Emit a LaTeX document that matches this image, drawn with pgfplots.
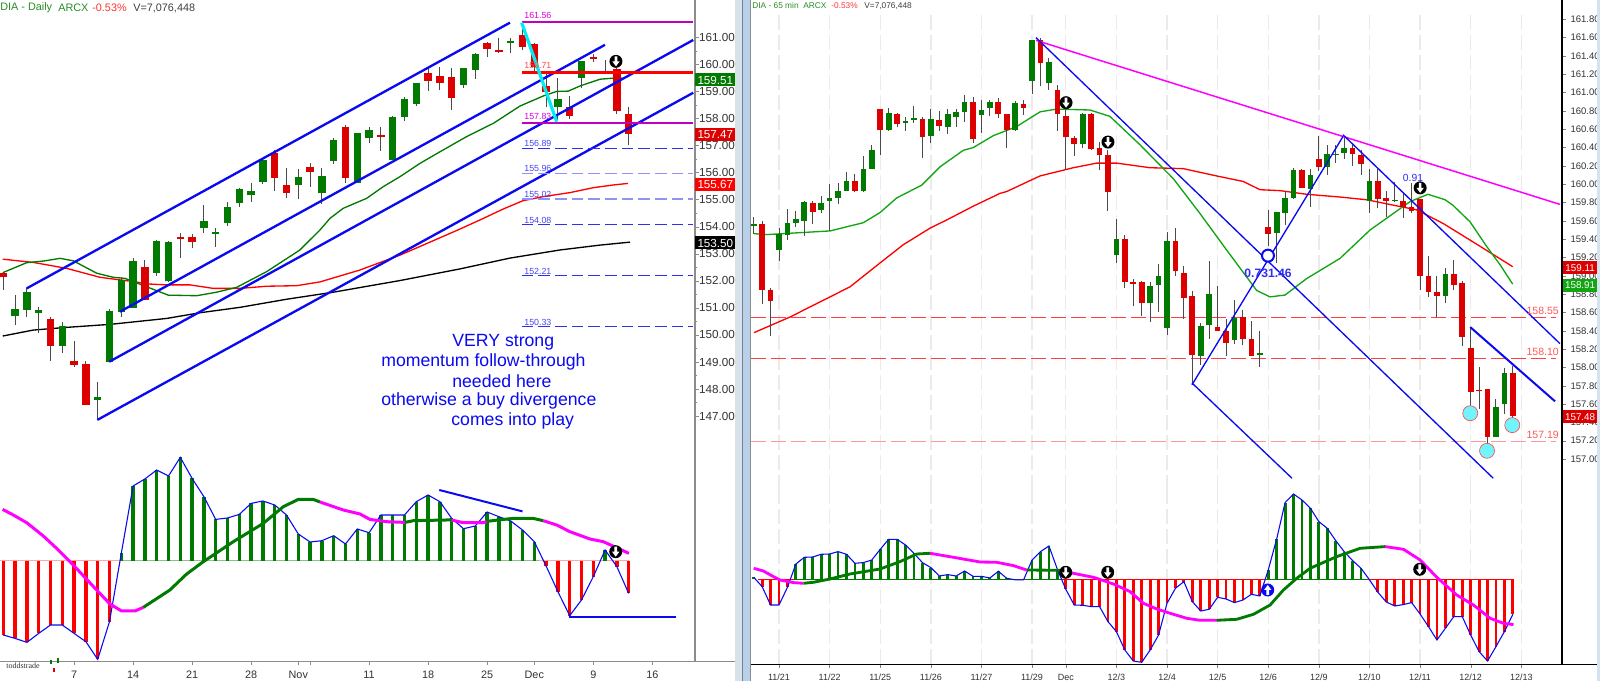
\documentclass[border=0pt]{standalone}
\usepackage{fontspec}
\setmainfont{Liberation Sans}
\newfontfamily\serifsmall{Liberation Serif}
\usepackage{pgfplots}
\usepackage{pgfplotstable}
\pgfplotsset{compat=1.18}
\definecolor{cg}{HTML}{007A00}
\definecolor{cr}{HTML}{DD0000}
\definecolor{bl}{HTML}{0A0AF0}
\definecolor{mg}{HTML}{FF00FF}
\definecolor{mh}{HTML}{C000C0}
\definecolor{lm}{HTML}{12A512}
\definecolor{wk}{HTML}{4A4A4A}
\definecolor{tk}{HTML}{333333}
\definecolor{gax}{HTML}{8C8C8C}
\definecolor{sa}{HTML}{D5E2F0}
\definecolor{sb}{HTML}{B8D0EA}
\definecolor{cy}{HTML}{00EEF2}
\definecolor{cc}{HTML}{70F5FF}
\pgfdeclareplotmark{darrow}{%
 \pgfsetfillcolor{black}\pgfpathcircle{\pgfpointorigin}{3.9pt}\pgfusepathqfill
 \pgfsetfillcolor{white}%
 \pgfpathmoveto{\pgfpoint{-0.8pt}{3pt}}\pgfpathlineto{\pgfpoint{0.8pt}{3pt}}%
 \pgfpathlineto{\pgfpoint{0.8pt}{0pt}}\pgfpathlineto{\pgfpoint{2.2pt}{0pt}}%
 \pgfpathlineto{\pgfpoint{0pt}{-3pt}}\pgfpathlineto{\pgfpoint{-2.2pt}{0pt}}%
 \pgfpathlineto{\pgfpoint{-0.8pt}{0pt}}\pgfpathclose\pgfusepathqfill}
\pgfdeclareplotmark{uarrow}{%
 \pgfsetfillcolor{bl}\pgfpathcircle{\pgfpointorigin}{3.9pt}\pgfusepathqfill
 \pgfsetfillcolor{white}%
 \pgfpathmoveto{\pgfpoint{-0.8pt}{-3pt}}\pgfpathlineto{\pgfpoint{0.8pt}{-3pt}}%
 \pgfpathlineto{\pgfpoint{0.8pt}{0pt}}\pgfpathlineto{\pgfpoint{2.2pt}{0pt}}%
 \pgfpathlineto{\pgfpoint{0pt}{3pt}}\pgfpathlineto{\pgfpoint{-2.2pt}{0pt}}%
 \pgfpathlineto{\pgfpoint{-0.8pt}{0pt}}\pgfpathclose\pgfusepathqfill}
% daily candles: index, low, high, body bottom, body top, 1 = up
\pgfplotstableread{
x lo hi bo bt up
0 151.66 152.34 152.13 152.28 0
1 150.37 151.48 150.70 150.95 1
2 150.67 151.74 150.92 151.58 1
3 150.06 151.02 150.80 150.92 1
4 149.05 150.67 149.59 150.60 0
5 149.34 150.48 149.59 150.33 1
6 148.83 149.78 148.89 149.04 0
7 147.41 149.04 147.41 148.93 0
8 146.86 148.26 147.60 147.71 1
9 149.01 150.96 149.01 150.87 1
10 150.67 152.15 150.84 152.03 1
11 151.00 152.84 151.00 152.74 1
12 151.29 152.77 151.29 152.52 0
13 152.18 153.51 152.30 153.47 1
14 151.97 153.48 152.00 153.44 1
15 152.84 153.77 153.54 153.63 0
16 153.21 153.73 153.45 153.63 0
17 153.77 154.80 153.94 154.22 1
18 153.26 153.96 153.73 153.79 1
19 154.04 154.91 154.15 154.74 1
20 154.74 155.43 154.89 155.38 1
21 154.92 155.63 155.17 155.33 1
22 155.58 156.50 155.66 156.47 1
23 155.32 156.84 155.81 156.71 0
24 155.05 156.16 155.24 155.54 0
25 155.01 156.12 155.54 155.84 1
26 155.48 156.34 156.01 156.20 0
27 154.84 156.16 155.24 155.87 1
28 156.32 157.28 156.44 157.20 1
29 155.63 157.76 155.79 157.70 0
30 155.60 157.45 155.60 157.45 1
31 157.10 157.70 157.29 157.58 1
32 156.81 157.70 157.32 157.39 0
33 156.47 158.10 156.47 158.04 1
34 157.92 158.78 158.07 158.71 1
35 158.46 159.31 158.52 159.30 1
36 159.03 159.91 159.40 159.69 0
37 159.05 159.91 159.32 159.57 0
38 158.31 159.85 158.75 159.52 0
39 159.11 159.85 159.24 159.85 1
40 159.46 160.41 159.79 160.38 1
41 160.28 160.84 160.57 160.80 0
42 160.43 160.99 160.46 160.53 0
43 160.41 160.96 160.78 160.85 1
44 160.53 161.33 160.65 161.09 0
45 159.73 160.80 159.91 160.75 0
46 158.44 159.72 158.97 159.20 0
47 157.94 159.51 158.44 158.72 1
48 157.97 158.84 158.10 158.41 0
49 159.12 160.12 159.51 160.12 1
50 160.08 160.37 160.21 160.27 0
51 159.64 160.16 159.69 159.77 0
52 158.17 159.85 158.29 159.82 0
53 157.02 158.41 157.44 158.17 0
}\dailycandles
\pgfplotstableread{
x v
0 -.743
1 -.777
2 -.817
3 -.727
4 -.643
5 -.643
6 -.727
7 -.81
8 -.987
9 -.61
10 .073
11 .747
12 .817
13 .907
14 .847
15 1.033
16 .823
17 .64
18 .413
19 .427
20 .463
21 .573
22 .597
23 .557
24 .457
25 .267
26 .187
27 .2
28 .25
29 .167
30 .317
31 .28
32 .457
33 .457
34 .457
35 .59
36 .657
37 .59
38 .423
39 .32
40 .347
41 .487
42 .44
43 .397
44 .307
45 .19
46 -.053
47 -.31
48 -.55
49 -.393
50 -.16
51 .107
52 -.06
53 -.327
}\dailymacd
% 65 minute candles
\pgfplotstableread{
x lo hi bo bt up
0 159.46 159.64 159.54 159.57 1
1 158.69 159.60 158.85 159.57 0
2 158.34 158.87 158.73 158.84 0
3 159.16 159.52 159.28 159.46 1
4 159.39 159.73 159.45 159.58 1
5 159.53 159.71 159.58 159.62 1
6 159.43 159.82 159.60 159.81 1
7 159.57 159.82 159.70 159.80 0
8 159.69 159.87 159.72 159.80 1
9 159.49 160.00 159.82 159.85 1
10 159.78 160.01 159.85 159.93 1
11 159.93 160.13 159.93 160.04 1
12 159.91 160.11 159.93 160.04 0
13 159.92 160.31 159.93 160.17 1
14 160.17 160.43 160.17 160.37 1
15 160.32 160.82 160.59 160.82 0
16 160.58 160.83 160.59 160.78 1
17 160.62 160.78 160.66 160.77 0
18 160.58 160.73 160.67 160.69 1
19 160.67 160.85 160.70 160.72 1
20 160.29 160.73 160.52 160.71 0
21 160.45 160.82 160.53 160.71 1
22 160.58 160.80 160.63 160.70 0
23 160.55 160.82 160.62 160.77 1
24 160.62 160.82 160.73 160.79 1
25 160.68 160.97 160.79 160.90 1
26 160.45 160.95 160.49 160.90 0
27 160.56 160.92 160.76 160.81 1
28 160.74 160.92 160.83 160.90 1
29 160.72 160.94 160.77 160.90 0
30 160.40 160.77 160.59 160.77 0
31 160.58 160.91 160.59 160.89 1
32 160.76 160.92 160.83 160.88 0
33 160.99 161.57 161.13 161.57 1
34 161.07 161.60 161.32 161.57 0
35 161.03 161.38 161.11 161.33 1
36 160.58 161.08 160.77 161.03 0
37 160.17 160.81 160.51 160.75 0
38 160.31 160.53 160.44 160.50 0
39 160.39 160.78 160.44 160.77 1
40 160.37 160.78 160.38 160.77 0
41 160.15 160.46 160.32 160.39 0
42 159.71 160.37 159.92 160.32 0
43 159.14 159.62 159.23 159.40 1
44 158.87 159.45 158.93 159.40 0
45 158.67 158.97 158.91 158.93 0
46 158.56 158.94 158.70 158.93 0
47 158.50 158.93 158.70 158.89 1
48 158.61 159.13 158.90 159.00 1
49 158.35 159.48 158.43 159.38 1
50 159.00 159.52 159.05 159.38 0
51 158.53 159.11 158.76 159.03 0
52 157.83 158.83 158.14 158.78 0
53 158.03 158.49 158.13 158.45 1
54 158.31 159.16 158.46 158.80 1
55 158.40 158.89 158.40 158.44 0
56 158.13 158.53 158.27 158.40 0
57 158.26 158.74 158.30 158.54 1
58 158.24 158.63 158.31 158.55 0
59 158.12 158.51 158.13 158.31 0
60 158.00 158.40 158.14 158.16 1
61 159.33 159.72 159.46 159.53 0
62 159.14 159.70 159.47 159.70 1
63 159.55 159.93 159.69 159.85 1
64 159.84 160.18 159.85 160.16 1
65 159.96 160.17 159.96 160.15 0
66 159.75 160.17 159.95 160.10 1
67 160.14 160.53 160.19 160.28 0
68 160.10 160.43 160.19 160.33 1
69 160.23 160.43 160.32 160.33 1
70 160.28 160.53 160.34 160.40 1
71 160.20 160.43 160.33 160.40 0
72 160.10 160.37 160.22 160.32 0
73 159.69 160.17 159.82 160.04 1
74 159.74 160.17 159.84 160.04 0
75 159.64 159.93 159.82 159.85 0
76 159.81 160.02 159.82 159.83 1
77 159.63 159.92 159.75 159.82 0
78 159.69 160.01 159.71 159.75 0
79 158.84 159.84 159.00 159.84 0
80 158.77 159.22 158.82 159.00 0
81 158.55 159.00 158.78 158.82 0
82 158.70 159.08 158.78 159.02 1
83 158.84 159.17 158.90 159.02 0
84 158.23 158.94 158.33 158.92 0
85 157.43 158.44 157.73 158.21 0
86 157.55 158.01 157.74 157.75 0
87 157.06 157.76 157.24 157.76 0
88 157.24 157.66 157.24 157.57 1
89 157.49 157.99 157.60 157.94 1
90 157.33 158.02 157.47 157.94 0
}\mincandles
\pgfplotstableread{
x v
0 .02
1 -.073
2 -.257
3 -.257
4 -.08
5 .153
6 .22
7 .223
8 .25
9 .253
10 .277
11 .25
12 .16
13 .167
14 .193
15 .30
16 .40
17 .40
18 .343
19 .26
20 .167
21 .117
22 .033
23 .047
24 .033
25 .083
26 .03
27 .03
28 .013
29 .08
30 .01
31 -.005
32 -.005
33 .193
34 .277
35 .333
36 .10
37 -.10
38 -.257
39 -.26
40 -.273
41 -.273
42 -.423
43 -.523
44 -.707
45 -.817
46 -.83
47 -.707
48 -.557
49 -.24
50 -.09
51 -.023
52 -.223
53 -.317
54 -.30
55 -.18
56 -.197
57 -.233
58 -.207
59 -.15
60 -.167
61 .093
62 .403
63 .767
64 .853
65 .793
66 .71
67 .577
68 .51
69 .387
70 .277
71 .187
72 .11
73 -.005
74 -.13
75 -.227
76 -.267
77 -.253
78 -.233
79 -.347
80 -.473
81 -.607
82 -.49
83 -.373
84 -.373
85 -.557
86 -.723
87 -.817
88 -.673
89 -.523
90 -.35
}\minmacd
\pgfplotsset{
 panel/.style={scale only axis,anchor=south west,clip=false,
  axis x line*=bottom,axis y line*=right,axis line style={-},
  tick align=outside,major tick length=2.2pt,minor tick length=1.4pt,
  /pgf/number format/assume math mode=true,
  /pgf/number format/fixed,/pgf/number format/fixed zerofill,/pgf/number format/precision=2,/pgf/number format/1000 sep={},
  yticklabel style={text=tk,xshift=-0.6pt}},
 wick/.style={draw=wk,line width=0.6pt,quiver={u=0,v=\thisrow{hi}-\thisrow{lo}}},
 upb/.style={draw=cg,line width=#1,quiver={u=0,v=\thisrow{up}*(\thisrow{bt}-\thisrow{bo})}},
 dnb/.style={draw=cr,line width=#1,quiver={u=0,v=(1-\thisrow{up})*(\thisrow{bt}-\thisrow{bo})}},
 hup/.style={draw=cg,line width=#1,quiver={u=0,v={max(\thisrow{v},0)}}},
 hdn/.style={draw=red,line width=#1,quiver={u=0,v={min(\thisrow{v},0)}}},
 dgrid/.style={xmajorgrids,major x grid style={draw=black!8,line width=0.8pt,dash pattern=on 9pt off 3pt}},
}
\begin{document}
\begin{tikzpicture}
\path[use as bounding box,fill=white] (0,0) rectangle (960pt,408.6pt);
%---------------- daily price
\begin{axis}[panel,at={(0pt,142.2pt)},width=417pt,height=266.4pt,
 xmin=-0.28,xmax=58.62,ymin=145.97,ymax=162.378,
 x axis line style={draw=none},y axis line style={draw=gax,line width=0.9pt},
 xtick=\empty,ytick={147,148,...,161},minor y tick num=1,
 ytick style={draw=gax},minor tick style={draw=gax},
 yticklabel style={text=tk,xshift=-2.6pt},
 tick label style={font=\fontsize{7}{8}\selectfont}]
\addplot[draw=black,line width=0.8pt] coordinates {(-.05,149.96)(2.54,150.18)(5.37,150.28)(9.04,150.39)(13.85,150.61)(16.67,150.82)(20.06,151.02)(24.02,151.32)(27.97,151.58)(33.62,152.01)(38.7,152.44)(42.94,152.84)(47.18,153.14)(50.57,153.32)(53.11,153.43)};
\addplot[draw=red,line width=0.8pt] coordinates {(-.05,152.8)(2.54,152.68)(5.37,152.46)(8.19,152.13)(11.02,151.97)(12.43,151.88)(13.85,151.85)(15.82,151.85)(17.8,151.72)(20.06,151.72)(22.32,151.80)(24.86,151.82)(26.84,151.96)(30.23,152.40)(33.62,152.95)(36.16,153.43)(38.53,153.88)(40.4,154.25)(42.35,154.65)(44.04,154.96)(45.74,155.11)(48.03,155.26)(49.97,155.44)(51.67,155.54)(52.94,155.6)};
\addplot[draw=cg,line width=0.8pt] coordinates {(-.05,152.30)(1.98,152.67)(3.39,152.73)(4.81,152.83)(5.93,152.74)(7.92,152.28)(9.32,152.13)(10.31,152.09)(12.15,151.78)(13.98,151.47)(16.39,151.45)(18.08,151.58)(19.78,151.76)(22.32,152.34)(25.14,153.14)(26.84,153.88)(27.69,154.31)(28.81,154.68)(30.8,155.05)(32.2,155.48)(33.62,155.85)(35.31,156.34)(37.01,156.77)(39.27,157.33)(41.53,157.82)(43.79,158.46)(45.76,158.83)(46.9,159.0)(47.88,159.01)(48.87,159.2)(50.57,159.45)(51.98,159.5)(52.41,159.49)};
\addplot[wick] table[x=x,y=lo] {\dailycandles};
\addplot[upb=4.4pt] table[x=x,y=bo] {\dailycandles};
\addplot[dnb=4.4pt] table[x=x,y=bo] {\dailycandles};
% channels
\addplot[draw=bl,line width=1.4pt] coordinates {(1.98,151.72)(42.94,161.54)};
\addplot[draw=bl,line width=1.4pt] coordinates {(9.89,150.86)(50.99,160.72)};
\addplot[draw=bl,line width=1.4pt] coordinates {(8.98,149.01)(58.47,160.90)};
\addplot[draw=bl,line width=1.4pt] coordinates {(7.97,146.86)(58.47,158.95)};
% retracement levels
\addplot[draw=mh,line width=1.6pt] coordinates {(43.93,161.56)(58.45,161.56)};
\addplot[draw=mh,line width=1.6pt] coordinates {(43.93,157.83)(58.45,157.83)};
\addplot[draw=red,line width=1.6pt] coordinates {(43.93,159.71)(58.45,159.71)};
\addplot[draw=bl!85,line width=0.6pt,dash pattern=on 7pt off 3pt] coordinates {(43.93,156.89)(58.45,156.89)};
\addplot[draw=bl!45,line width=0.9pt,dash pattern=on 7pt off 3pt] coordinates {(43.93,155.96)(58.45,155.96)};
\addplot[draw=bl!45,line width=0.9pt,dash pattern=on 7pt off 3pt] coordinates {(43.93,155.02)(58.45,155.02)};
\addplot[draw=bl!85,line width=0.6pt,dash pattern=on 7pt off 3pt] coordinates {(43.93,154.08)(58.45,154.08)};
\addplot[draw=bl!85,line width=0.6pt,dash pattern=on 7pt off 3pt] coordinates {(43.93,152.21)(58.45,152.21)};
\addplot[draw=bl!85,line width=0.6pt,dash pattern=on 7pt off 3pt] coordinates {(43.93,150.33)(58.45,150.33)};
\addplot[draw=cy,line width=1.9pt] coordinates {(43.93,161.54)(46.9,157.88)};
\addplot[only marks,mark=darrow] coordinates {(51.92,160.11)};
\end{axis}
%---------------- daily macd
\begin{axis}[panel,at={(0pt,11.58pt)},width=417pt,height=130.62pt,
 xmin=-0.28,xmax=58.62,ymin=-1.01,ymax=1.167,
 x axis line style={draw=gax,line width=0.9pt},y axis line style={draw=gax,line width=0.9pt},
 ytick=\empty,xtick={6,11,16,21,25,26,31,36,41,45,50,55},
 xticklabels={7,14,21,28,Nov,,11,18,25,Dec,9,16},
 xtick style={draw=gax},
 tick label style={font=\fontsize{6.5}{8}\selectfont,text=tk}]
\addplot[draw=red!35,line width=0.6pt] coordinates {(-.28,0)(10,0)};
\addplot[draw=cg!45,line width=0.6pt] coordinates {(10,0)(45.4,0)};
\addplot[draw=red!35,line width=0.6pt] coordinates {(45.4,0)(53,0)};
\addplot[hdn=2pt] table[x=x,y expr=0] {\dailymacd};
\addplot[hup=2pt] table[x=x,y expr=0] {\dailymacd};
\addplot[draw=bl,line width=0.65pt] table[x=x,y=v] {\dailymacd};
\addplot[draw=mg,line width=1.8pt] coordinates {(-.06,.513)(.85,.457)(1.98,.38)(3.39,.247)(4.52,.123)(5.93,-.043)(7.91,-.293)(9.04,-.433)(10.03,-.503)(11.16,-.503)(11.86,-.467)};
\addplot[draw=cg,line width=1.8pt] coordinates {(11.86,-.467)(14.12,-.293)(15.54,-.133)(16.95,-.01)(19.49,.19)(22.03,.373)(23.73,.54)(25,.613)(26.27,.613)(26.84,.587)};
\addplot[draw=mg,line width=1.8pt] coordinates {(26.84,.587)(28.81,.507)(30.23,.467)(31.07,.413)(32.49,.39)(34.04,.383)};
\addplot[draw=cg,line width=1.8pt] coordinates {(34.04,.383)(34.75,.40)(37.57,.407)(37.99,.407)};
\addplot[draw=mg,line width=1.8pt] coordinates {(37.99,.407)(38.98,.38)(40.68,.38)(40.96,.393)};
\addplot[draw=cg,line width=1.8pt] coordinates {(40.96,.393)(41.95,.407)(43.2,.423)(44.9,.423)(45.76,.40)};
\addplot[draw=mg,line width=1.8pt] coordinates {(45.76,.40)(46.9,.357)(48.02,.29)(49.72,.217)(50.85,.19)(51.98,.13)(53.02,.073)};
\addplot[draw=bl,line width=1.2pt] coordinates {(36.95,.707)(44,.493)};
\addplot[draw=bl,line width=1.2pt] coordinates {(47.94,-.563)(56.99,-.563)};
\addplot[only marks,mark=darrow] coordinates {(51.9,.09)};
\end{axis}
%---------------- 65 min price
\begin{axis}[panel,at={(450.6pt,114.6pt)},width=486.6pt,height=294pt,dgrid,
 xmin=-0.32,xmax=95.83,ymin=156.662,ymax=162.011,
 x axis line style={draw=none},y axis line style={draw=black,line width=0.7pt},
 xtick={3,9,15,21,27,33,37,43,49,55,61,67,73,79,85,91},xticklabels={},xtick style={draw=none},
 ytick={157,157.2,157.4,157.6,157.8,158,158.2,158.4,158.6,158.8,159,159.2,159.4,159.6,159.8,160,160.2,160.4,160.6,160.8,161,161.2,161.4,161.6,161.8},
 tick label style={font=\fontsize{5.7}{7}\selectfont}]
\addplot[draw=red!75,line width=0.6pt,dash pattern=on 9pt off 3pt] coordinates {(-.32,158.55)(95.1,158.55)};
\addplot[draw=red!75,line width=0.6pt,dash pattern=on 9pt off 3pt] coordinates {(-.32,158.10)(95.1,158.10)};
\addplot[draw=red!40,line width=0.9pt,dash pattern=on 9pt off 3pt] coordinates {(-.32,157.19)(95.1,157.19)};
\addplot[only marks,mark=*,mark size=4.5pt,draw=red!70,fill=cc,line width=0.4pt] coordinates {(84.95,157.50)(86.94,157.09)(89.93,157.37)};
\addplot[draw=red,line width=0.8pt] coordinates {(.04,158.38)(4.3,158.55)(9.05,158.77)(11.42,158.88)(14.97,159.14)(17.74,159.34)(20.9,159.52)(22.88,159.61)(26.03,159.76)(29.2,159.90)(29.99,159.92)(33.94,160.09)(37.89,160.18)(40.66,160.23)(43.04,160.23)(46.98,160.18)(50.93,160.17)(54.89,160.09)(58.04,160.03)(60.02,159.94)(62.39,159.93)(65.56,159.89)(69.51,159.86)(72.67,159.83)(78.6,159.72)(81.76,159.57)(85.28,159.37)(89.98,159.10)};
\addplot[draw=lm,line width=0.8pt] coordinates {(.04,159.46)(1.54,159.45)(9.05,159.49)(13,159.58)(14.97,159.69)(16.95,159.85)(19.92,159.99)(22.09,160.19)(24.85,160.37)(26.03,160.40)(28.41,160.53)(31.18,160.63)(33.95,160.79)(35.92,160.82)(39.87,160.81)(42.24,160.74)(45.8,160.43)(49.75,160.06)(52.91,159.68)(56.08,159.28)(59.63,158.84)(61.21,158.77)(62.99,158.79)(65.56,158.97)(69.51,159.19)(73.07,159.5)(77.81,159.81)(79.95,159.89)(81.97,159.83)(82.9,159.77)(84.92,159.59)(86.9,159.32)(88.49,159.12)(89.98,158.91)};
\addplot[wick] table[x=x,y=lo] {\mincandles};
\addplot[upb=3.4pt] table[x=x,y=bo] {\mincandles};
\addplot[dnb=3.4pt] table[x=x,y=bo] {\mincandles};
\addplot[draw=mg,line width=0.9pt] coordinates {(33.47,161.57)(95.58,159.78)};
\addplot[draw=bl,line width=0.8pt] coordinates {(33.47,161.60)(87.68,156.79)};
\addplot[draw=bl,line width=0.8pt] coordinates {(51.96,157.81)(69.86,160.52)};
\addplot[draw=bl,line width=0.8pt] coordinates {(69.86,160.54)(95.58,158.26)};
\addplot[draw=bl,line width=0.8pt] coordinates {(51.96,157.83)(63.82,156.79)};
\addplot[draw=bl,line width=1.2pt] coordinates {(84.95,158.44)(95,157.63)};
\addplot[only marks,mark=*,mark size=3.6pt,draw=bl,fill=white,line width=1.2pt] coordinates {(60.97,159.22)};
\addplot[only marks,mark=darrow] coordinates {(37.03,160.89)(42,160.46)(79.01,159.96)};
\end{axis}
%---------------- 65 min macd
\begin{axis}[panel,at={(450.6pt,10.02pt)},width=486.6pt,height=104.58pt,dgrid,
 xmin=-0.32,xmax=95.83,ymin=-.85,ymax=.893,
 x axis line style={draw=black,line width=0.7pt},y axis line style={draw=black,line width=0.7pt},
 ytick=\empty,xtick={3,9,15,21,27,33,37,43,49,55,61,67,73,79,85,91},
 xticklabels={11/21,11/22,11/25,11/26,11/27,11/29,Dec,12/3,12/4,12/5,12/6,12/9,12/10,12/11,12/12,12/13},
 tick label style={font=\fontsize{5.4}{7}\selectfont,text=tk}]
\addplot[draw=cg,line width=0.6pt] coordinates {(4.8,0)(36.5,0)};
\addplot[draw=red,line width=0.6pt] coordinates {(.5,0)(4.8,0)};
\addplot[draw=red,line width=0.6pt] coordinates {(36.5,0)(60.9,0)};
\addplot[draw=cg,line width=0.6pt] coordinates {(60.9,0)(73,0)};
\addplot[draw=red,line width=0.6pt] coordinates {(73,0)(90,0)};
\addplot[hdn=1.7pt] table[x=x,y expr=0] {\minmacd};
\addplot[hup=1.7pt] table[x=x,y expr=0] {\minmacd};
\addplot[draw=bl,line width=0.65pt] table[x=x,y=v] {\minmacd};
\addplot[draw=mg,line width=1.7pt] coordinates {(0,.11)(1.15,.083)(2.33,.027)(3.12,-.007)(4.7,-.033)(5.89,-.04)};
\addplot[draw=cg,line width=1.7pt] coordinates {(5.89,-.04)(7.07,-.03)(9.05,.003)(11.42,.053)(14.98,.103)(17.35,.177)(19.33,.253)(20.91,.26)};
\addplot[draw=mg,line width=1.7pt] coordinates {(20.91,.26)(23.68,.22)(26.84,.173)(28.81,.17)(30.79,.137)(32.37,.093)};
\addplot[draw=cg,line width=1.7pt] coordinates {(32.37,.093)(36.32,.09)};
\addplot[draw=mg,line width=1.7pt] coordinates {(36.32,.09)(37.9,.06)(40.28,.02)(42.65,-.047)(44.62,-.123)(46.2,-.24)(47.79,-.297)(49.37,-.34)(51.34,-.39)(52.92,-.41)(54.9,-.41)};
\addplot[draw=cg,line width=1.7pt] coordinates {(54.9,-.41)(57.27,-.40)(59.25,-.35)(61.22,-.257)(62.8,-.107)(64.38,.01)(65.96,.11)(69.13,.227)(71.89,.31)(74.86,.327)};
\addplot[draw=mg,line width=1.7pt] coordinates {(74.86,.327)(77.03,.30)(79.01,.193)(80.99,.02)(83.35,-.157)(85.33,-.257)(87.31,-.39)(88.89,-.44)(90.08,-.453)};
\addplot[only marks,mark=darrow] coordinates {(36.99,.07)(41.97,.07)(78.96,.10)};
\addplot[only marks,mark=uarrow] coordinates {(60.94,-.107)};
\end{axis}
%---------------- frame and texts, in reference pixels
\begin{scope}[x=0.6pt,y=-0.6pt,yshift=408.6pt]
\fill[white] (751.5,0) rectangle (1561,12);
\fill[white] (735,0) rectangle (751,681);
\fill[black!12] (735,0) rectangle (737,681);
\fill[sa] (737,0) rectangle (743,681);
\fill[black!50] (741.7,0) rectangle (743,681);
\fill[sb] (743,0) rectangle (750,681);
\fill[black!45] (750,0) rectangle (751,681);
\fill[sa] (1597,0) rectangle (1600,681);
\draw[gax,line width=0.9pt] (695,661.7) -- (735,661.7);
\draw[black,line width=0.7pt] (1562,664.3) -- (1597,664.3);
% titles
\def\tf{\fontsize{6.5}{8}\selectfont}
\node[anchor=west,inner sep=0,text=cg!85!white,font=\tf] at (0,8) {DIA - Daily};
\node[anchor=west,inner sep=0,text=cg!85!white,font=\tf] at (58,8) {ARCX};
\node[anchor=west,inner sep=0,text=red!80,font=\tf] at (92,8) {-0.53\%};
\node[anchor=west,inner sep=0,text=black!75,font=\tf] at (133,8) {V=7,076,448};
\def\tg{\fontsize{5}{7}\selectfont}
\node[anchor=west,inner sep=0,text=cg!85!white,font=\tg] at (752,6) {DIA - 65 min};
\node[anchor=west,inner sep=0,text=cg!85!white,font=\tg] at (803,6) {ARCX};
\node[anchor=west,inner sep=0,text=red!80,font=\tg] at (831,6) {-0.53\%};
\node[anchor=west,inner sep=0,text=black!75,font=\tg] at (864,6) {V=7,076,448};
% level labels, daily
\def\lf{\fontsize{5.3}{6}\selectfont}
\node[anchor=west,inner sep=0,text=mg!85!black,font=\lf] at (524,15) {161.56};
\node[anchor=west,inner sep=0,text=red!70,font=\lf] at (524,65) {159.71};
\node[anchor=west,inner sep=0,text=mg!85!black,font=\lf] at (524,116.5) {157.83};
\node[anchor=west,inner sep=0,text=bl!75,font=\lf] at (524,143) {156.89};
\node[anchor=west,inner sep=0,text=bl!75,font=\lf] at (524,168) {155.96};
\node[anchor=west,inner sep=0,text=bl!75,font=\lf] at (524,194) {155.02};
\node[anchor=west,inner sep=0,text=bl!75,font=\lf] at (524,220) {154.08};
\node[anchor=west,inner sep=0,text=bl!75,font=\lf] at (524,271) {152.21};
\node[anchor=west,inner sep=0,text=bl!75,font=\lf] at (524,322) {150.33};
% comment
\def\cf{\fontsize{10.6}{12}\selectfont}
\foreach \X/\Y/\T in {452/342/VERY strong,381/362/momentum follow-through,452/381/needed here,381/401/otherwise a buy divergence,451/421/comes into play}
 \node[anchor=west,inner sep=0,text=bl,font=\cf] at (\X,\Y) {\T};
% price tags, daily
\def\Tag#1#2#3#4#5#6{\node[anchor=west,inner sep=0,fill=#4,text=white,minimum width=#5*0.6pt,minimum height=7.8pt,font=#6] at (#1,#2) {#3};}
\Tag{695}{80}{159.51}{cg}{40}{\fontsize{7}{8}\selectfont}
\Tag{695}{135}{157.47}{cr}{40}{\fontsize{7}{8}\selectfont}
\Tag{695}{184.7}{155.67}{red}{40}{\fontsize{7}{8}\selectfont}
\Tag{695}{243}{153.50}{black}{40}{\fontsize{7}{8}\selectfont}
\Tag{1562.5}{268}{159.11}{cr}{34.5}{\fontsize{5.9}{7}\selectfont}
\Tag{1562.5}{285.5}{158.91}{lm}{34.5}{\fontsize{5.9}{7}\selectfont}
\Tag{1562.5}{417}{157.48}{cr}{34.5}{\fontsize{5.9}{7}\selectfont}
% level labels, 65 min
\def\rf{\fontsize{6.3}{7}\selectfont}
\node[anchor=east,inner sep=0,text=red!65,font=\rf] at (1559,310.5) {158.55};
\node[anchor=east,inner sep=0,text=red!65,font=\rf] at (1559,352) {158.10};
\node[anchor=east,inner sep=0,text=red!65,font=\rf] at (1559,435) {157.19};
\node[inner sep=0,text=bl!85,font=\fontsize{7.3}{9}\bfseries] at (1268,273) {0.731.46};
\node[inner sep=0,text=bl!85,font=\fontsize{6.2}{7}\selectfont] at (1413,178) {0.91};
% small logo
\node[anchor=west,inner sep=0,text=black!80,font=\serifsmall\fontsize{4.8}{6}\selectfont] at (6,666) {toddstrade};
\fill[cg] (50,660) rectangle (51.5,664);
\fill[cg] (56.5,658) rectangle (58.5,663);
\fill[cr] (52.5,668) rectangle (54.5,672);
\end{scope}
\end{tikzpicture}
\end{document}
